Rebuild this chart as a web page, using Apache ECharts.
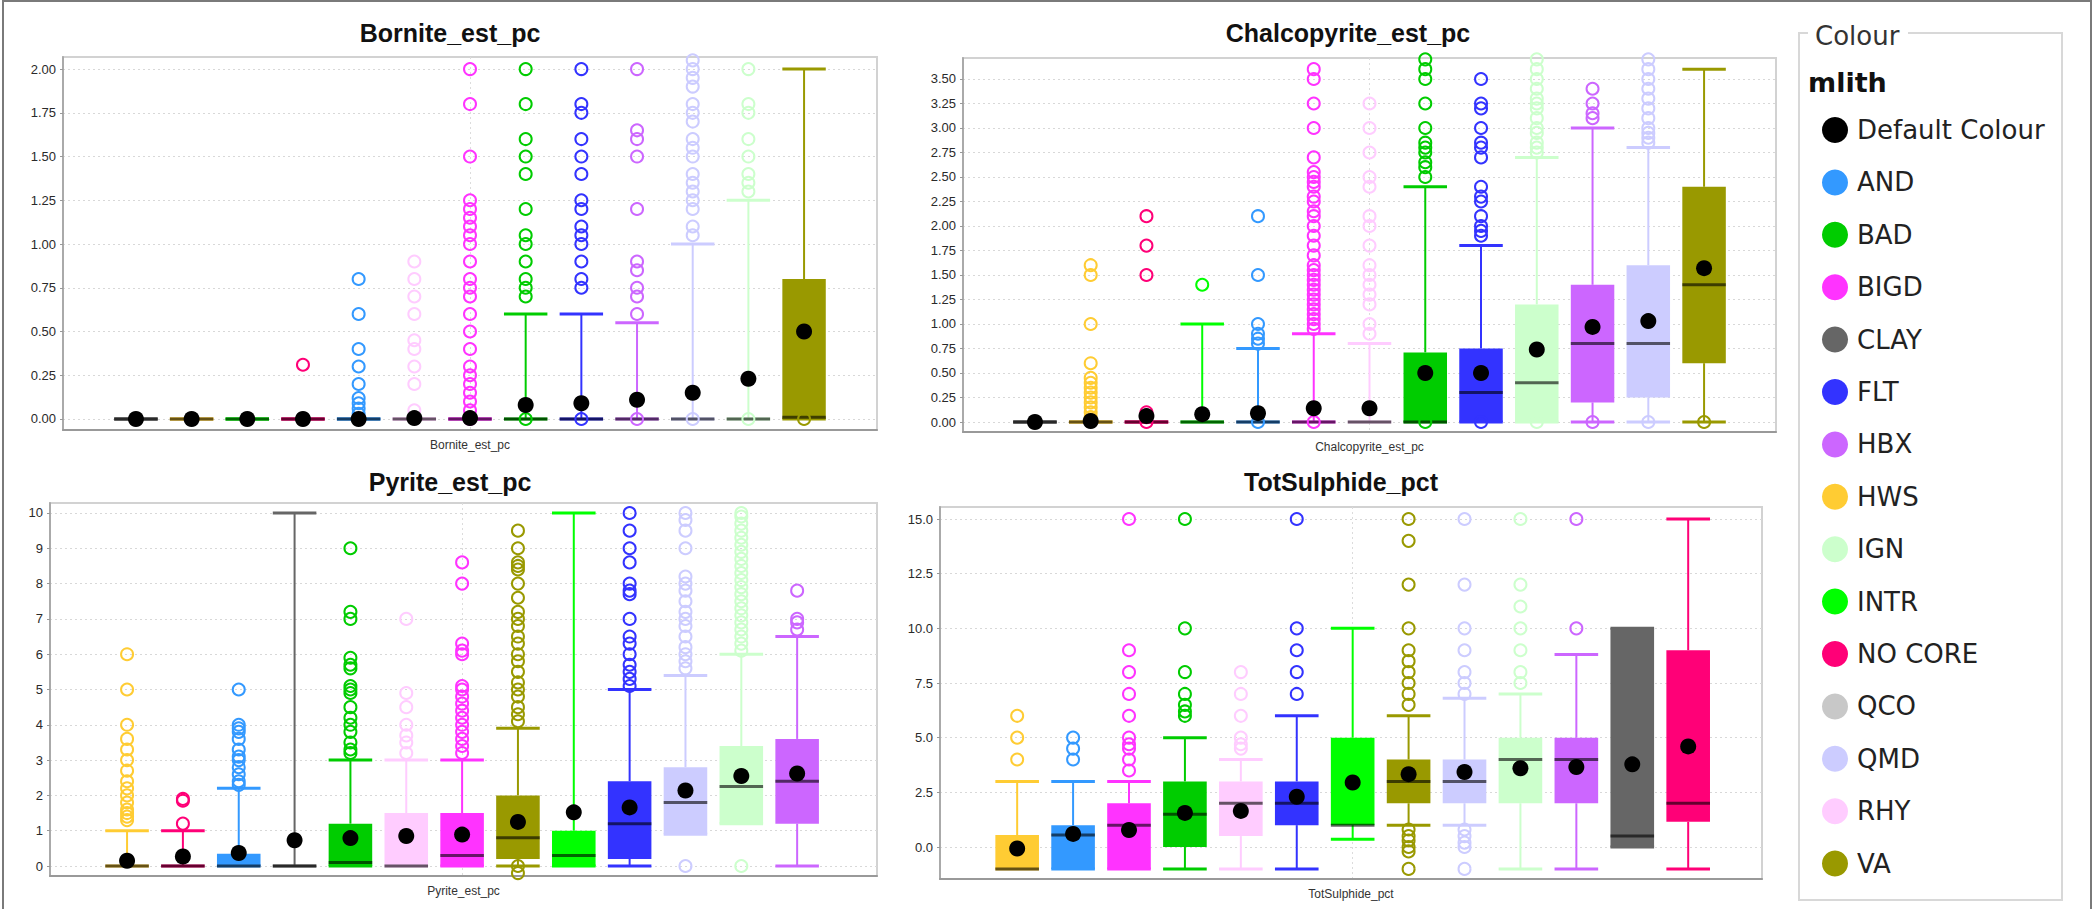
<!DOCTYPE html>
<html>
<head>
<meta charset="utf-8">
<script src="https://cdn.jsdelivr.net/npm/echarts@6/dist/echarts.min.js"></script>
<style>html,body{margin:0;padding:0;background:#fff;}#c{width:2093px;height:909px;}</style>
</head>
<body>
<div id="c"></div>
<script>
// ================= DATA =================
const legendNames = ['Default Colour','AND','BAD','BIGD','CLAY','FLT','HBX','HWS','IGN','INTR','NO CORE','QCO','QMD','RHY','VA'];

// --- Bornite_est_pc ---
const borniteCats = ['CLAY','HWS','INTR','NO CORE','AND','RHY','BIGD','BAD','FLT','HBX','QMD','IGN','VA'];
// [min, Q1, median, Q3, max]
const borniteStats = [
  [0,0,0,0,0],[0,0,0,0,0],[0,0,0,0,0],[0,0,0,0,0],[0,0,0,0,0],[0,0,0,0,0],[0,0,0,0,0],
  [0,0,0,0,0.6],[0,0,0,0,0.6],[0,0,0,0,0.55],[0,0,0,0,1.0],[0,0,0,0,1.25],[0,0,0.01,0.8,2.0]
];
const borniteMeans = [0,0,0,0,0,0.005,0.005,0.08,0.09,0.11,0.15,0.23,0.5];
const borniteOutliers = [
  [],[],[],
  [0,0.31],
  [0,0.03,0.06,0.09,0.12,0.2,0.3,0.4,0.6,0.8],
  [0.05,0.2,0.3,0.4,0.45,0.6,0.7,0.8,0.9],
  [0,0.05,0.1,0.15,0.2,0.25,0.3,0.4,0.5,0.6,0.7,0.75,0.8,0.9,1.0,1.05,1.1,1.15,1.2,1.25,1.5,1.8,2.0],
  [0,0.7,0.75,0.8,0.9,1.0,1.05,1.2,1.4,1.5,1.6,1.8,2.0],
  [0,0.75,0.8,0.9,1.0,1.05,1.1,1.2,1.25,1.4,1.5,1.6,1.75,1.8,2.0],
  [0,0.6,0.7,0.75,0.85,0.9,1.2,1.5,1.6,1.65,2.0],
  [0,1.05,1.1,1.2,1.25,1.3,1.35,1.4,1.5,1.55,1.6,1.7,1.75,1.8,1.9,1.95,2.0,2.05],
  [0,1.3,1.35,1.4,1.5,1.6,1.75,1.8,2.0],
  [0,2.1]
];
const borniteTicks = [0,0.25,0.5,0.75,1.0,1.25,1.5,1.75,2.0];

// --- Chalcopyrite_est_pc ---
const chalcoCats = ['CLAY','HWS','NO CORE','INTR','AND','BIGD','RHY','BAD','FLT','IGN','HBX','QMD','VA'];
const chalcoStats = [
  [0,0,0,0,0],[0,0,0,0,0],[0,0,0,0,0],[0,0,0,0,1.0],[0,0,0,0,0.75],[0,0,0,0,0.9],[0,0,0,0,0.8],
  [0,0,0,0.71,2.4],[0,0,0.3,0.75,1.8],[0,0,0.4,1.2,2.7],[0,0.2,0.8,1.4,3.0],[0,0.25,0.8,1.6,2.8],[0,0.6,1.4,2.4,3.6]
];
const chalcoMeans = [0,0.01,0.06,0.08,0.09,0.14,0.14,0.5,0.5,0.74,0.97,1.03,1.57];
const chalcoOutliers = [
  [],
  [0.05,0.1,0.15,0.2,0.25,0.3,0.35,0.4,0.45,0.6,1.0,1.5,1.6],
  [0,0.05,0.1,1.5,1.8,2.1],
  [1.4],
  [0,0.8,0.85,0.9,1.0,1.5,2.1],
  [0,0.95,1.0,1.05,1.1,1.15,1.2,1.25,1.3,1.35,1.4,1.45,1.5,1.55,1.6,1.7,1.8,1.9,2.0,2.1,2.15,2.25,2.3,2.4,2.45,2.5,2.55,2.7,3.0,3.25,3.5,3.6],
  [0.9,1.0,1.2,1.3,1.4,1.5,1.6,1.8,2.0,2.1,2.4,2.5,2.75,3.0,3.25],
  [0,2.5,2.6,2.65,2.75,2.8,2.85,3.0,3.25,3.5,3.6,3.7],
  [0,1.9,1.95,2.0,2.1,2.25,2.3,2.4,2.7,2.8,2.85,3.0,3.2,3.25,3.5],
  [0,2.75,2.8,2.85,2.95,3.0,3.1,3.2,3.25,3.3,3.4,3.5,3.6,3.7],
  [0,3.1,3.15,3.25,3.4],
  [0,2.85,2.9,2.95,3.0,3.1,3.2,3.3,3.4,3.5,3.6,3.7],
  [0,3.75]
];
const chalcoTicks = [0,0.25,0.5,0.75,1.0,1.25,1.5,1.75,2.0,2.25,2.5,2.75,3.0,3.25,3.5];

// --- Pyrite_est_pc ---
const pyriteCats = ['HWS','NO CORE','AND','CLAY','BAD','RHY','BIGD','VA','INTR','FLT','QMD','IGN','HBX'];
const pyriteStats = [
  [0,0,0,0,1.0],[0,0,0,0,1.0],[0,0,0,0.35,2.2],[0,0,0,0,10],[0,0,0.1,1.2,3.0],[0,0,0,1.5,3.0],[0,0,0.3,1.5,3.0],
  [0,0.2,0.8,2.0,3.9],[0,0,0.3,1.0,10],[0,0.2,1.2,2.4,5.0],[0.9,0.9,1.8,2.8,5.4],[1.2,1.2,2.25,3.4,6.0],[0,1.2,2.4,3.6,6.5]
];
const pyriteMeans = [0.15,0.27,0.37,0.73,0.79,0.85,0.89,1.25,1.52,1.66,2.14,2.55,2.62];
const pyriteOutliers = [
  [1.3,1.4,1.5,1.6,1.8,2.0,2.2,2.4,2.7,3.0,3.3,3.6,4.0,5.0,6.0],
  [1.2,1.85,1.9],
  [2.3,2.4,2.6,2.8,3.0,3.1,3.3,3.6,3.8,3.9,4.0,5.0],
  [],
  [3.2,3.3,3.5,3.8,4.0,4.2,4.5,4.9,5.0,5.1,5.6,5.7,5.9,7.0,7.2,9.0],
  [3.2,3.5,3.7,4.0,4.5,4.9,7.0],
  [3.2,3.4,3.6,3.8,4.0,4.2,4.4,4.6,4.8,5.0,5.1,6.0,6.1,6.3,8.0,8.6],
  [-0.2,0,4.1,4.3,4.5,4.8,5.0,5.2,5.5,5.8,6.0,6.3,6.5,6.8,7.0,7.2,7.6,8.0,8.4,8.5,8.6,9.0,9.5],
  [],
  [5.1,5.3,5.5,5.7,6.0,6.3,6.5,7.0,7.7,7.8,8.0,8.6,9.0,9.5,10.0],
  [0,5.6,5.8,6.0,6.2,6.5,6.8,7.0,7.2,7.5,7.8,8.0,8.2,9.0,9.5,9.8,10.0],
  [0,6.1,6.3,6.5,6.7,6.9,7.1,7.3,7.5,7.7,7.9,8.1,8.3,8.5,8.7,8.9,9.1,9.3,9.5,9.7,9.9,10.0],
  [6.7,6.9,7.0,7.8]
];
const pyriteTicks = [0,1,2,3,4,5,6,7,8,9,10];

// --- TotSulphide_pct ---
const sulphCats = ['HWS','AND','BIGD','BAD','RHY','FLT','INTR','VA','QMD','IGN','HBX','CLAY','NO CORE'];
const sulphStats = [
  [-1,-1,-1,0.55,3.0],[-1,-1,0.55,1.0,3.0],[-1,-1,1.0,2.0,3.0],[-1,0,1.5,3.0,5.0],[-1,0.5,2.0,3.0,4.0],
  [-1,1.0,2.0,3.0,6.0],[0.35,1.0,1.0,5.0,10],[1.0,2.0,3.0,4.0,6.0],[1.0,2.0,3.0,4.0,6.8],[-1,2.0,4.0,5.0,7.0],
  [-1,2.0,4.0,5.0,8.8],[0,0,0.5,10,10],[-1,1.15,2.0,9.0,15]
];
const sulphMeans = [-0.07,0.6,0.78,1.56,1.65,2.3,2.95,3.33,3.43,3.6,3.66,3.78,4.6];
const sulphOutliers = [
  [4.0,5.0,6.0],
  [4.0,4.5,5.0],
  [3.5,4.0,4.5,4.7,5.0,6.0,7.0,8.0,9.0,15],
  [6.0,6.2,6.5,7.0,8.0,10,15],
  [4.5,4.7,5.0,6.0,7.0,8.0],
  [7.0,8.0,9.0,10,15],
  [],
  [-1,-0.2,0,0.3,0.5,0.8,6.5,7.0,7.5,8.0,8.5,9.0,10,12,14,15],
  [-1,0,0.2,0.5,0.8,7.0,7.5,8.0,9.0,10,12,15],
  [7.5,8.0,9.0,10,11,12,15],
  [10,15],
  [],
  []
];
const sulphTicks = [0,2.5,5,7.5,10,12.5,15];

// ================= STYLE / LAYOUT =================
const lithColors = {
  'Default Colour':'#000000','AND':'#3399ff','BAD':'#00cc00','BIGD':'#ff33ff','CLAY':'#666666',
  'FLT':'#3333ff','HBX':'#cc66ff','HWS':'#ffcc33','IGN':'#ccffcc','INTR':'#00ff00',
  'NO CORE':'#ff0077','QCO':'#c8c8c8','QMD':'#ccccff','RHY':'#ffccff','VA':'#999900'
};

const panels = [
  {title:'Bornite_est_pc', cats:borniteCats, stats:borniteStats, means:borniteMeans, outl:borniteOutliers, ticks:borniteTicks, dec:2,
   grid:{left:63, top:57, width:814, height:373}, y:[-0.063,2.069], x:[-1.31,13.31], tx:450, ty:33},
  {title:'Chalcopyrite_est_pc', cats:chalcoCats, stats:chalcoStats, means:chalcoMeans, outl:chalcoOutliers, ticks:chalcoTicks, dec:2,
   grid:{left:963, top:58, width:813, height:374}, y:[-0.102,3.714], x:[-1.29,13.29], tx:1348, ty:33},
  {title:'Pyrite_est_pc', cats:pyriteCats, stats:pyriteStats, means:pyriteMeans, outl:pyriteOutliers, ticks:pyriteTicks, dec:0,
   grid:{left:50, top:503, width:827, height:373}, y:[-0.283,10.283], x:[-1.38,13.43], tx:450, ty:482},
  {title:'TotSulphide_pct', cats:sulphCats, stats:sulphStats, means:sulphMeans, outl:sulphOutliers, ticks:sulphTicks, dec:1,
   grid:{left:940, top:507, width:822, height:372}, y:[-1.463,15.549], x:[-1.38,13.32], tx:1341, ty:482}
];

const grids = [], xAxes = [], yAxes = [], series = [], graphics = [];

function makeRender(colors) {
  return function (params, api) {
    const x = api.value(0);
    const vMin = api.value(1), q1 = api.value(2), med = api.value(3), q3 = api.value(4), vMax = api.value(5);
    const col = colors[params.dataIndex];
    const w = api.size([0.78, 0])[0];
    const hw = w / 2;
    const pMax = api.coord([x, vMax]), pQ3 = api.coord([x, q3]), pMed = api.coord([x, med]);
    const pQ1 = api.coord([x, q1]), pMin = api.coord([x, vMin]);
    const cx = pMax[0];
    return {
      type: 'group',
      children: [
        {type:'line', shape:{x1:cx, y1:pMax[1], x2:cx, y2:pQ3[1]}, style:{stroke:col, lineWidth:2}},
        {type:'line', shape:{x1:cx, y1:pQ1[1], x2:cx, y2:pMin[1]}, style:{stroke:col, lineWidth:2}},
        {type:'line', shape:{x1:cx-hw, y1:pMax[1], x2:cx+hw, y2:pMax[1]}, style:{stroke:col, lineWidth:3}},
        {type:'line', shape:{x1:cx-hw, y1:pMin[1], x2:cx+hw, y2:pMin[1]}, style:{stroke:col, lineWidth:3}},
        {type:'rect', shape:{x:cx-hw, y:pQ3[1], width:w, height:Math.max(pQ1[1]-pQ3[1], 0)}, style:{fill:col}},
        {type:'line', shape:{x1:cx-hw, y1:pMed[1], x2:cx+hw, y2:pMed[1]}, style:{stroke:'rgba(0,0,0,0.6)', lineWidth:3}}
      ]
    };
  };
}

panels.forEach(function (p, i) {
  grids.push(Object.assign({show:true, borderColor:'#d2d2d2', borderWidth:2, backgroundColor:'#ffffff'}, p.grid));
  xAxes.push({
    gridIndex:i, type:'value', min:p.x[0], max:p.x[1],
    name:p.title, nameLocation:'middle', nameGap:9,
    nameTextStyle:{fontSize:12, color:'#333', fontFamily:'Liberation Sans', verticalAlign:'top'},
    axisLine:{show:true, onZero:false, lineStyle:{color:'#999', width:2}},
    axisTick:{show:false, customValues:[6]},
    axisLabel:{show:false},
    splitLine:{show:true, lineStyle:{color:'#dcdcdc', type:[2,3], width:1}}
  });
  yAxes.push({
    gridIndex:i, type:'value', min:p.y[0], max:p.y[1],
    axisLine:{show:true, onZero:false, lineStyle:{color:'#aaa', width:2}},
    axisTick:{show:true, length:3, customValues:p.ticks, lineStyle:{color:'#999'}},
    axisLabel:{customValues:p.ticks, formatter:function (v) { return Number(v).toFixed(p.dec); },
      fontSize:13, color:'#2a2a2a', fontFamily:'Liberation Sans', margin:7},
    splitLine:{show:true, lineStyle:{color:'#d8d8d8', type:[2,3], width:1}}
  });
  const colors = p.cats.map(function (c) { return lithColors[c]; });
  series.push({
    type:'custom', xAxisIndex:i, yAxisIndex:i, z:2, silent:true,
    renderItem: makeRender(colors),
    encode:{x:0, y:[1,2,3,4,5]},
    data: p.stats.map(function (s, k) { return [k].concat(s); })
  });
  const outData = [];
  p.outl.forEach(function (arr, k) {
    arr.forEach(function (v) {
      outData.push({value:[k, v], itemStyle:{color:'rgba(255,255,255,0)', borderColor:colors[k], borderWidth:2, opacity:1}});
    });
  });
  series.push({
    type:'scatter', xAxisIndex:i, yAxisIndex:i, z:3, silent:true, clip:true,
    symbol:'circle', symbolSize:12, itemStyle:{opacity:1}, data:outData
  });
  series.push({
    type:'scatter', xAxisIndex:i, yAxisIndex:i, z:5, silent:true, clip:true,
    symbol:'circle', symbolSize:16, itemStyle:{color:'#000', opacity:1},
    data: p.means.map(function (m, k) { return [k, m]; })
  });
  graphics.push({type:'text', x:p.tx, y:p.ty, silent:true,
    style:{text:p.title, fill:'#111', fontSize:25, fontWeight:'bold', fontFamily:'Liberation Sans', align:'center', verticalAlign:'middle'}});
});

// outer frame
graphics.push({type:'rect', silent:true, shape:{x:3, y:1, width:2088, height:940},
  style:{fill:'none', stroke:'#7a7a7a', lineWidth:2}});
// legend box
graphics.push({type:'rect', silent:true, shape:{x:1799, y:33, width:263, height:867},
  style:{fill:'none', stroke:'#d8d8d8', lineWidth:2}});
graphics.push({type:'rect', silent:true, shape:{x:1808, y:20, width:100, height:28},
  style:{fill:'#fff'}});
graphics.push({type:'text', x:1815, y:36, silent:true,
  style:{text:'Colour', fill:'#333', fontSize:26, fontFamily:'DejaVu Sans', align:'left', verticalAlign:'middle'}});
graphics.push({type:'text', x:1808, y:82, silent:true,
  style:{text:'mlith', fill:'#111', fontSize:27, fontWeight:'bold', fontFamily:'DejaVu Sans', align:'left', verticalAlign:'middle'}});
legendNames.forEach(function (n, k) {
  const cy = 130 + k * 52.4;
  graphics.push({type:'circle', silent:true, shape:{cx:1835, cy:cy, r:13}, style:{fill:lithColors[n]}});
  graphics.push({type:'text', x:1857, y:cy, silent:true,
    style:{text:n, fill:'#222', fontSize:26, fontFamily:'DejaVu Sans', align:'left', verticalAlign:'middle'}});
});

const chart = echarts.init(document.getElementById('c'), null, {renderer:'svg', width:2093, height:909});
chart.setOption({
  backgroundColor:'#ffffff',
  animation:false,
  grid:grids, xAxis:xAxes, yAxis:yAxes, series:series,
  graphic:graphics
});
</script>
</body>
</html>
